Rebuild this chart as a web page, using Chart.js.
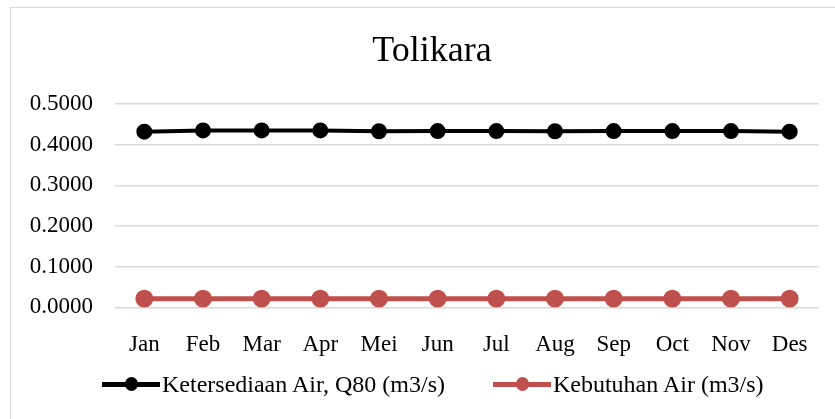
<!DOCTYPE html>
<html lang="id">
<head>
  <meta charset="UTF-8" />
  <title>Tolikara</title>
  <script src="https://cdn.jsdelivr.net/npm/chart.js"></script>
  <style>
    body { margin: 0; background: #fff; font-family: "Liberation Serif", serif; overflow: hidden; }
    .frame { position: absolute; left: 10px; top: 7px; width: 900px; height: 500px; border: 1px solid #d9d9d9; box-sizing: border-box; }
    .wrap { position: absolute; left: 0; top: 0; width: 864px; height: 383px; }
    .legend { position: absolute; top: 370px; left: 102px; display: flex; gap: 48px; font-size: 24px; line-height: 28px; color: #000; }
    .legend span { display: flex; align-items: center; }
    .mark { position: relative; width: 58px; height: 20px; margin-right: 2px; }
    .mark i { position: absolute; left: 0; right: 0; top: 8px; height: 5px; }
    .mark b { position: absolute; left: 23px; top: 3px; width: 13px; height: 14px; border-radius: 50%; }
  </style>
</head>
<body>
  <div class="frame"></div>
  <div class="wrap"><canvas id="grafik"></canvas></div>
  <div class="legend" id="legenda"></div>

  <script>
    // data
    const judul = 'Tolikara';
    const bulan = ['Jan', 'Feb', 'Mar', 'Apr', 'Mei', 'Jun', 'Jul', 'Aug', 'Sep', 'Oct', 'Nov', 'Des'];
    const ketersediaan = [0.4320, 0.4350, 0.4350, 0.4350, 0.4330, 0.4335, 0.4335, 0.4330, 0.4335, 0.4335, 0.4335, 0.4320];
    const kebutuhan = [0.0215, 0.0215, 0.0215, 0.0215, 0.0215, 0.0215, 0.0215, 0.0215, 0.0215, 0.0215, 0.0215, 0.0215];
    const namaSeri = ['Ketersediaan Air, Q80 (m3/s)', 'Kebutuhan Air (m3/s)'];
    const warna = ['#000000', '#c0504d'];

    // judul digambar sendiri supaya posisinya di tengah frame, bukan tengah area plot
    const judulPlugin = {
      id: 'judul',
      afterDraw(chart) {
        const c = chart.ctx;
        c.save();
        c.font = '36px "Liberation Serif"';
        c.fillStyle = '#000';
        c.textAlign = 'center';
        c.textBaseline = 'middle';
        c.fillText(judul, 432, 52);
        c.restore();
      }
    };

    const ctx = document.getElementById('grafik').getContext('2d');
    new Chart(ctx, {
      type: 'line',
      data: {
        labels: bulan,
        datasets: [
          { label: namaSeri[0], data: ketersediaan, borderColor: warna[0], backgroundColor: warna[0],
            borderWidth: 4, pointRadius: 6, pointHoverRadius: 6 },
          { label: namaSeri[1], data: kebutuhan, borderColor: warna[1], backgroundColor: warna[1],
            borderWidth: 5, pointRadius: 6.5, pointHoverRadius: 6.5 }
        ]
      },
      plugins: [judulPlugin],
      options: {
        responsive: true,
        maintainAspectRatio: false,
        animation: false,
        layout: { padding: { left: 0, right: 45, top: 104, bottom: 0 } },
        plugins: {
          legend: { display: false },
          tooltip: { enabled: false },
          title: { display: false }
        },
        scales: {
          y: {
            min: 0,
            max: 0.5,
            afterFit: s => { s.width = 115; },
            ticks: {
              stepSize: 0.1,
              color: '#000',
              font: { family: 'Liberation Serif', size: 23 },
              padding: 22,
              callback: v => Number(v).toFixed(4)
            },
            grid: { color: '#d9d9d9', lineWidth: 1.5, drawTicks: false },
            border: { display: false }
          },
          x: {
            offset: true,
            ticks: {
              color: '#000',
              font: { family: 'Liberation Serif', size: 23 },
              padding: 24
            },
            grid: { display: false, drawTicks: false },
            border: { display: false }
          }
        }
      }
    });

    // legenda html: garis dengan titik
    const legenda = document.getElementById('legenda');
    namaSeri.forEach((nama, i) => {
      const item = document.createElement('span');
      item.innerHTML = '<span class="mark"><i style="background:' + warna[i] + '"></i><b style="background:' + warna[i] + '"></b></span>' + nama;
      legenda.appendChild(item);
    });
  </script>
</body>
</html>
